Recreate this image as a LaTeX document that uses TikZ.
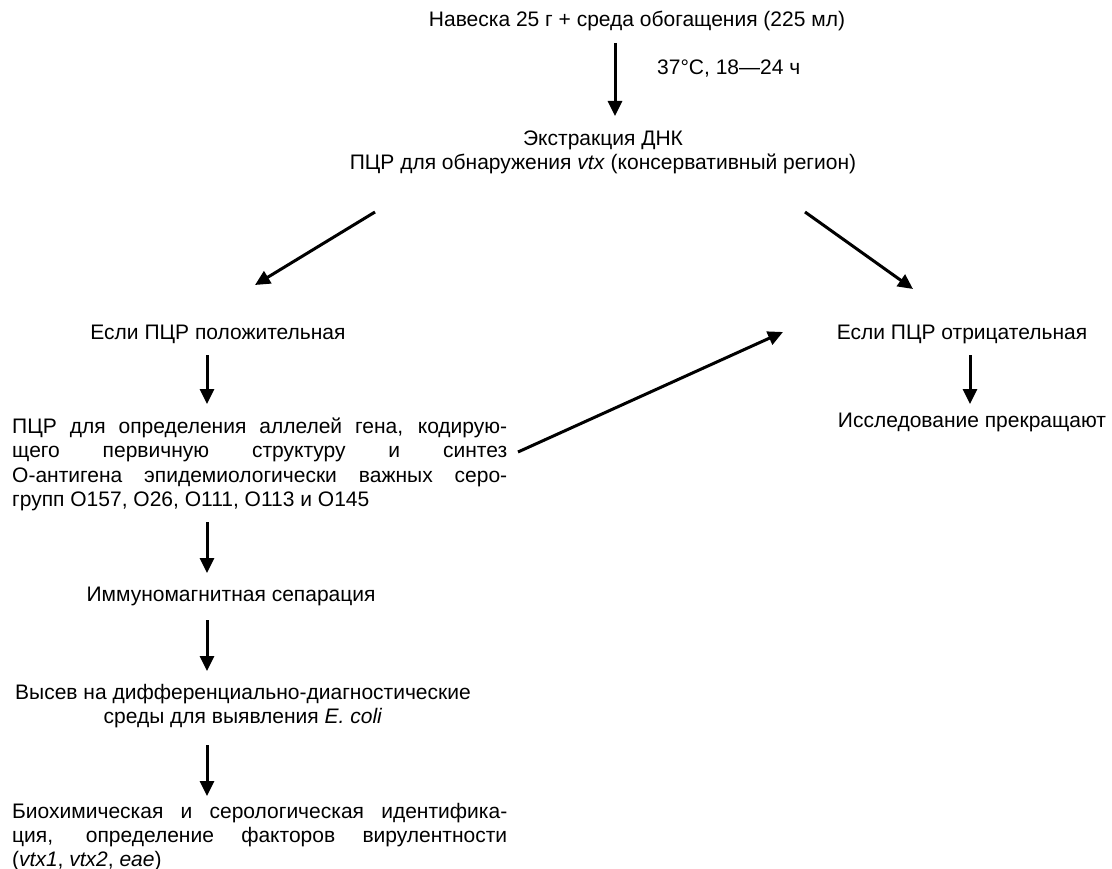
\documentclass[tikz,border=0pt]{standalone}
\usepackage{fontspec}
\setmainfont{Liberation Sans}
\usetikzlibrary{arrows.meta}
\begin{document}
\begin{tikzpicture}[x=1pt,y=-1pt,
  font=\fontsize{21}{24.3}\selectfont,
  arr/.style={-{Triangle[length=15pt,width=14pt]}, line width=3pt},
  txt/.style={inner sep=0pt, anchor=base},
  txtl/.style={inner sep=0pt, anchor=base west}]
\useasboundingbox (0,0) rectangle (1112,869);
% top
\node[txt] (n1) at (637,27) {Навеска 25 г + среда обогащения (225 мл)};
\node[txtl] (t1) at (657,75) {37°C, 18—24 ч};
\node[txt] (n2a) at (603,146) {Экстракция ДНК};
\node[txt] (n2b) at (603,170) {ПЦР для обнаружения \textit{vtx} (консервативный регион)};
% branches
\node[txt] (pos) at (218,339) {Если ПЦР положительная};
\node[txt] (neg) at (962,339) {Если ПЦР отрицательная};
\node[txt] (stop) at (972,427) {Исследование прекращают};
% PCR block
\node[txtl] (p1) at (12,433) {\makebox[495pt][s]{ПЦР для определения аллелей гена, кодирую-}};
\node[txtl] (p2) at (12,457) {\makebox[495pt][s]{щего первичную структуру и синтез}};
\node[txtl] (p3) at (12,482) {\makebox[495pt][s]{О-антигена эпидемиологически важных серо-}};
\node[txtl] (p4) at (12,506) {групп О157, О26, О111, О113 и О145};
% immuno
\node[txt] (im) at (231,601) {Иммуномагнитная сепарация};
% plating
\node[txt] (v1) at (243,699) {Высев на дифференциально-диагностические};
\node[txt] (v2) at (243,723) {среды для выявления \textit{E. coli}};
% biochem
\node[txtl] (b1) at (12,818) {\makebox[495pt][s]{Биохимическая и серологическая идентифика-}};
\node[txtl] (b2) at (12,842) {\makebox[495pt][s]{ция, определение факторов вирулентности}};
\node[txtl] (b3) at (12,866) {(\textit{vtx1}, \textit{vtx2}, \textit{eae})};
% arrow end points
\coordinate (a1s) at (615,43);  \coordinate (a1e) at (615,116);
\coordinate (dls) at (375,212); \coordinate (dle) at (255,285);
\coordinate (drs) at (805,212); \coordinate (dre) at (913,289);
\coordinate (l1s) at (207,355); \coordinate (l1e) at (207,404);
\coordinate (r1s) at (970,355); \coordinate (r1e) at (970,404);
\coordinate (xs) at (518,452);  \coordinate (xe) at (783,332);
\coordinate (l2s) at (207,522); \coordinate (l2e) at (207,573);
\coordinate (l3s) at (207,620); \coordinate (l3e) at (207,671);
\coordinate (l4s) at (207,745); \coordinate (l4e) at (207,796);
\draw[arr] (a1s) -- (a1e);
\draw[arr] (dls) -- (dle);
\draw[arr] (drs) -- (dre);
\draw[arr] (l1s) -- (l1e);
\draw[arr] (r1s) -- (r1e);
\draw[arr] (xs) -- (xe);
\draw[arr] (l2s) -- (l2e);
\draw[arr] (l3s) -- (l3e);
\draw[arr] (l4s) -- (l4e);
\end{tikzpicture}
\end{document}
